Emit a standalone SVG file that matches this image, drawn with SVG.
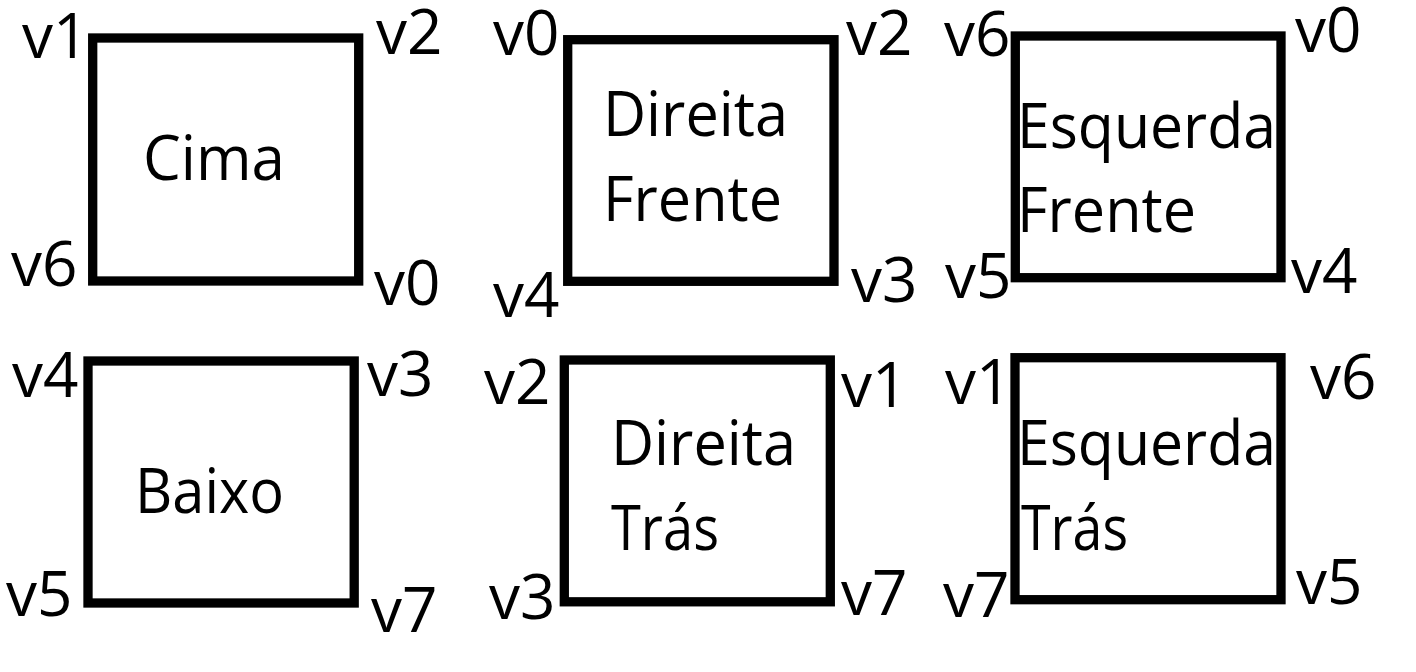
<svg xmlns="http://www.w3.org/2000/svg" width="1416" height="672" viewBox="0 0 1416 672">
<style>
.box{fill:none;stroke:#000;stroke-width:9.3}
text{font-family:"Open Sans","Noto Sans","DejaVu Sans",sans-serif;fill:#000}
.lbl{font-size:62px}
.ttl{font-size:62px}
</style>
<rect width="1416" height="672" fill="#fff"/>
<g id="cima">
<rect class="box" x="92.7" y="38" width="266" height="243"/>
<text class="ttl" x="143" y="180" textLength="142" lengthAdjust="spacingAndGlyphs">Cima</text>
<text class="lbl" x="22" y="58">v1</text>
<text class="lbl" x="376" y="54">v2</text>
<text class="lbl" x="11" y="286">v6</text>
<text class="lbl" x="374" y="305">v0</text>
</g>
<g id="direita-frente">
<rect class="box" x="567.7" y="39.7" width="266.3" height="241.6"/>
<text class="ttl" x="603" y="136" textLength="185" lengthAdjust="spacingAndGlyphs">Direita</text>
<text class="ttl" x="603" y="221" textLength="179" lengthAdjust="spacingAndGlyphs">Frente</text>
<text class="lbl" x="493" y="55">v0</text>
<text class="lbl" x="846" y="55">v2</text>
<text class="lbl" x="493" y="317">v4</text>
<text class="lbl" x="851" y="302">v3</text>
</g>
<g id="esquerda-frente">
<rect class="box" x="1015.3" y="36" width="265.7" height="241.7"/>
<text class="ttl" x="1017" y="148" textLength="259" lengthAdjust="spacingAndGlyphs">Esquerda</text>
<text class="ttl" x="1017" y="232" textLength="179" lengthAdjust="spacingAndGlyphs">Frente</text>
<text class="lbl" x="944" y="56">v6</text>
<text class="lbl" x="1295" y="52">v0</text>
<text class="lbl" x="945" y="298">v5</text>
<text class="lbl" x="1291" y="293">v4</text>
</g>
<g id="baixo">
<rect class="box" x="88" y="361" width="266.2" height="242"/>
<text class="ttl" x="135" y="513" textLength="149" lengthAdjust="spacingAndGlyphs">Baixo</text>
<text class="lbl" x="12" y="397">v4</text>
<text class="lbl" x="367" y="396">v3</text>
<text class="lbl" x="6" y="616">v5</text>
<text class="lbl" x="371" y="632">v7</text>
</g>
<g id="direita-tras">
<rect class="box" x="564.3" y="360" width="266" height="241.8"/>
<text class="ttl" x="611" y="465" textLength="185" lengthAdjust="spacingAndGlyphs">Direita</text>
<text class="ttl" x="611" y="550" textLength="108" lengthAdjust="spacingAndGlyphs">Trás</text>
<text class="lbl" x="484" y="404">v2</text>
<text class="lbl" x="841" y="407">v1</text>
<text class="lbl" x="489" y="619">v3</text>
<text class="lbl" x="841" y="615">v7</text>
</g>
<g id="esquerda-tras">
<rect class="box" x="1015" y="357.7" width="266" height="242"/>
<text class="ttl" x="1017" y="465" textLength="259" lengthAdjust="spacingAndGlyphs">Esquerda</text>
<text class="ttl" x="1021" y="550" textLength="107" lengthAdjust="spacingAndGlyphs">Trás</text>
<text class="lbl" x="945" y="404">v1</text>
<text class="lbl" x="1310" y="399">v6</text>
<text class="lbl" x="943" y="617">v7</text>
<text class="lbl" x="1296" y="604">v5</text>
</g>
<g id="connectors"/>
</svg>
